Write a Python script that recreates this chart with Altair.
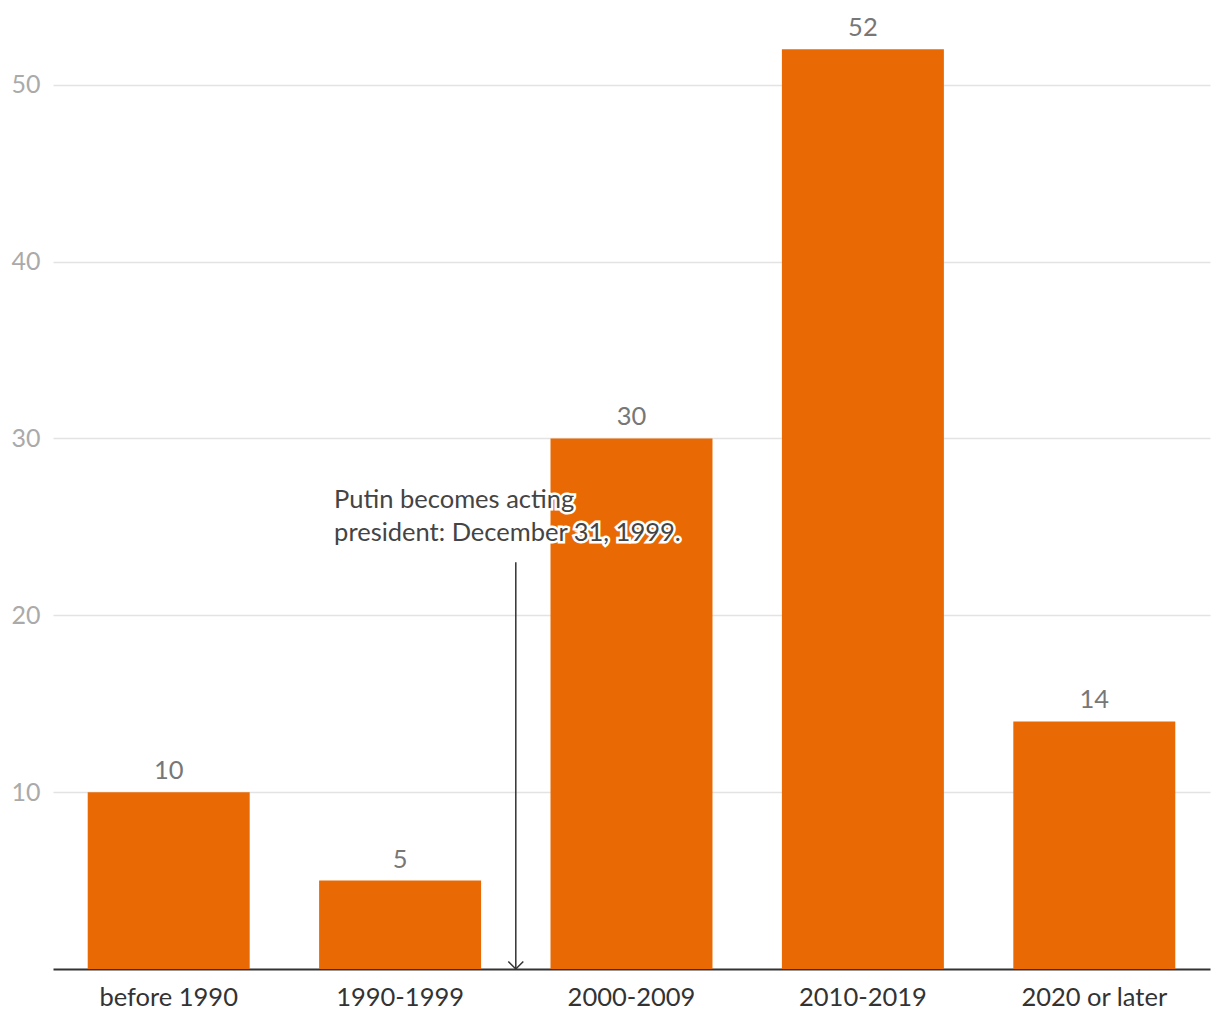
import altair as alt
import pandas as pd

categories = ["before 1990", "1990-1999", "2000-2009", "2010-2019", "2020 or later"]
values = [10, 5, 30, 52, 14]
y_ticks = [10, 20, 30, 40, 50]
note_lines = ["Putin becomes acting", "president: December 31, 1999."]
note_top_value = 23
note_text_value = 26.05

FONT = "Lato"
FS = 25.5
df = pd.DataFrame({"cat": categories, "val": values})

xscale = alt.Scale(domain=categories, paddingInner=0.3, paddingOuter=0.15)
yscale = alt.Scale(domain=[0, 54], nice=False, zero=True)

x_enc = alt.X("cat:N", scale=xscale, sort=categories, title=None,
              axis=alt.Axis(labelAngle=0, labelFontSize=FS, labelColor="#333333",
                            labelFont=FONT, labelPadding=16, ticks=False,
                            domainColor="#333333", domainWidth=2, grid=False))
y_enc = alt.Y("val:Q", scale=yscale, title=None,
              axis=alt.Axis(values=y_ticks, labelFontSize=25, labelColor="#aaaaaa",
                            labelFont=FONT, labelPadding=13, ticks=False, domain=False,
                            gridColor="#e3e3e3", gridWidth=1.5))

bars = alt.Chart(df).mark_bar(color="#e96a04").encode(x=x_enc, y=y_enc)

labels = alt.Chart(df).mark_text(font=FONT, fontSize=FS, color="#777777",
                                 baseline="alphabetic", dy=-13).encode(
    x=alt.X("cat:N", scale=xscale, sort=categories),
    y=alt.Y("val:Q", scale=yscale),
    text="val:Q")

ann = pd.DataFrame({"cat": ["1990-1999"], "top": [note_top_value], "bottom": [0],
                    "ty": [note_text_value]})

GAP = 1157 / 5 * 0.15

rule = alt.Chart(ann).mark_rule(color="#333333", strokeWidth=1.5, xOffset=GAP).encode(
    x=alt.X("cat:N", scale=xscale, sort=categories, bandPosition=1),
    y=alt.Y("top:Q", scale=yscale),
    y2="bottom:Q")

arrow = alt.Chart(ann).mark_point(shape="M-1,-1L0,0L1,-1", filled=False, size=225,
                                  stroke="#333333", strokeWidth=1.5, opacity=1,
                                  xOffset=GAP).encode(
    x=alt.X("cat:N", scale=xscale, sort=categories, bandPosition=1),
    y=alt.Y("bottom:Q", scale=yscale))

note_df = pd.DataFrame({"cat": ["1990-1999"], "ty": [note_text_value],
                        "txt": [note_lines]})

halo = alt.Chart(note_df).mark_text(font=FONT, fontSize=FS, align="left",
                                    baseline="alphabetic", lineHeight=33, dx=15,
                                    stroke="white", strokeWidth=5, color="white").encode(
    x=alt.X("cat:N", scale=xscale, sort=categories, bandPosition=0),
    y=alt.Y("ty:Q", scale=yscale),
    text="txt")

note = alt.Chart(note_df).mark_text(font=FONT, fontSize=FS, align="left",
                                    baseline="alphabetic", lineHeight=33, dx=15,
                                    color="#444444").encode(
    x=alt.X("cat:N", scale=xscale, sort=categories, bandPosition=0),
    y=alt.Y("ty:Q", scale=yscale),
    text="txt")

chart = alt.layer(bars, labels, rule, arrow, halo, note).properties(
    width=1157, height=955,
    autosize=alt.AutoSizeParams(type="none"),
    padding={"left": 53, "top": 14, "right": 10, "bottom": 51},
).configure(background="white").configure_view(stroke=None, strokeWidth=0)

chart.save("out.html", embed_options={"renderer": "svg", "actions": False})
